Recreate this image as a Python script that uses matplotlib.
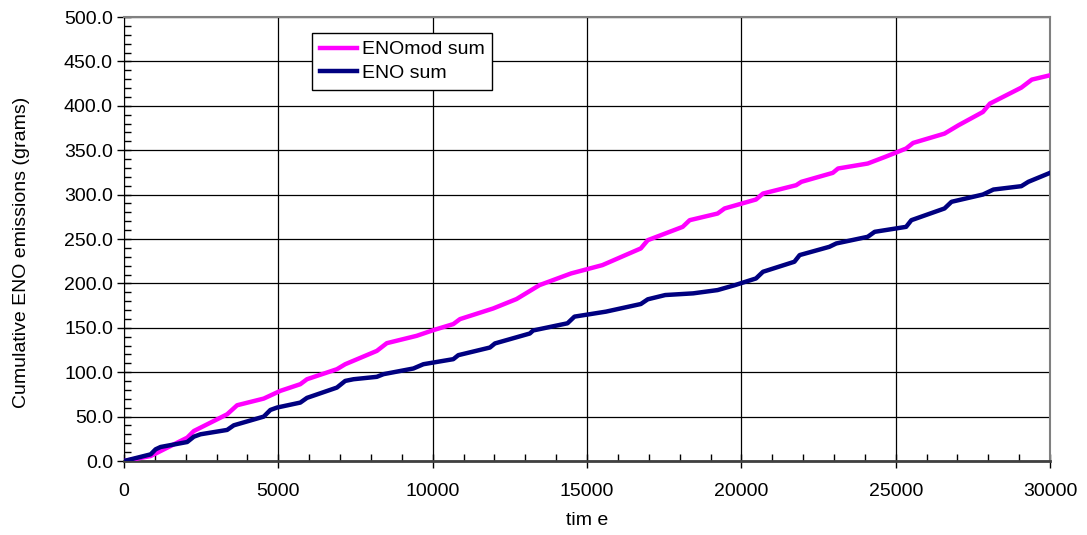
import matplotlib
matplotlib.use("Agg")
import matplotlib.pyplot as plt
from matplotlib.ticker import MultipleLocator, FormatStrFormatter

plt.rcParams['font.family'] = ['Liberation Sans', 'DejaVu Sans']

# cumulative ENO emissions
mod_t = [0, 862, 2047, 2263, 3340, 3664, 4526, 5065, 5711, 5927, 6897, 7166,
         8190, 8513, 9483, 10022, 10668, 10884, 11961, 12716, 13462, 14480,
         15498, 16742, 16968, 18099, 18325, 19230, 19456, 20474, 20700, 21775,
         21944, 22962, 23132, 24093, 24659, 25337, 25564, 26581, 27034, 27826,
         28052, 29070, 29409, 30000]
mod_sum = [0, 5.6, 26.3, 33.8, 52.6, 62.8, 70.3, 79.0, 86.5, 92.1, 103.4, 109.0,
           124.0, 132.7, 141.0, 147.4, 154.2, 159.8, 171.8, 182.4, 198.1, 211.2,
           220.6, 239.4, 248.7, 263.7, 271.2, 278.7, 284.4, 294.5, 301.2, 310.6,
           314.4, 324.5, 329.4, 335.0, 342.5, 351.9, 358.2, 368.7, 378.1, 393.1,
           402.5, 420.5, 429.5, 434.4]

eno_t = [0, 862, 1024, 1185, 2047, 2263, 2478, 3340, 3556, 4526, 4741, 4957,
         5711, 5927, 6897, 7166, 7435, 8190, 8405, 9375, 9698, 10668, 10830,
         11854, 12016, 13147, 13254, 14367, 14593, 15611, 16742, 16968, 17534,
         18438, 19230, 19795, 20474, 20700, 21718, 21888, 22849, 23075, 24093,
         24319, 25337, 25507, 26581, 26808, 27826, 28165, 29070, 29296, 30000]
eno_sum = [0, 7.5, 13.2, 15.8, 21.4, 27.4, 30.1, 35.0, 40.2, 50.0, 57.5, 60.2,
           65.8, 71.1, 82.7, 90.2, 92.1, 94.8, 97.8, 104.2, 109.0, 114.7, 119.2,
           127.8, 132.4, 143.6, 147.0, 155.1, 162.6, 168.2, 176.8, 182.1, 186.9,
           188.8, 192.5, 198.1, 205.6, 213.1, 224.4, 231.9, 241.2, 245.0, 252.5,
           258.1, 263.7, 271.2, 284.4, 291.9, 300.1, 305.7, 309.5, 314.4, 324.5]

fig = plt.figure(figsize=(10.87, 5.35), dpi=100)
ax = fig.add_axes([0.1141, 0.1383, 0.8519, 0.8299])

ax.plot(mod_t, mod_sum, color='#FF00FF', lw=3.2, label='ENOmod sum', zorder=3)
ax.plot(eno_t, eno_sum, color='#000080', lw=3.2, label='ENO sum', zorder=3)

ax.set_xlim(0, 30000)
ax.set_ylim(0, 500)
ax.xaxis.set_major_locator(MultipleLocator(5000))
ax.xaxis.set_minor_locator(MultipleLocator(1000))
ax.yaxis.set_major_locator(MultipleLocator(50))
ax.yaxis.set_minor_locator(MultipleLocator(10))
ax.yaxis.set_major_formatter(FormatStrFormatter('%.1f'))

ax.grid(True, which='major', color='black', lw=0.9)
ax.tick_params(which='major', direction='inout', length=10, width=1,
               labelsize=14)
ax.tick_params(axis='x', which='major', pad=11)
ax.tick_params(axis='y', which='major', pad=3)
ax.tick_params(which='minor', direction='in', length=5, width=1)

for side in ['top', 'right']:
    ax.spines[side].set_color('#808080')
    ax.spines[side].set_linewidth(1.5)
ax.spines['left'].set_color('black')
ax.spines['bottom'].set_color('#404040')
ax.spines['bottom'].set_linewidth(2)

ax.set_xlabel('tim e', fontsize=14)
ax.set_ylabel('Cumulative ENO emissions (grams)', fontsize=14)
ax.xaxis.set_label_coords(0.5, -0.115)
ax.yaxis.set_label_coords(-0.101, 0.47)

leg = ax.legend(loc='upper left', bbox_to_anchor=(0.203, 0.964), fontsize=14,
                frameon=True, fancybox=False, edgecolor='black', framealpha=1,
                handlelength=1.9, handletextpad=0.25, borderpad=0.4,
                labelspacing=0.3, borderaxespad=0)
leg.get_frame().set_linewidth(1)

fig.savefig('out.png', dpi=100)
